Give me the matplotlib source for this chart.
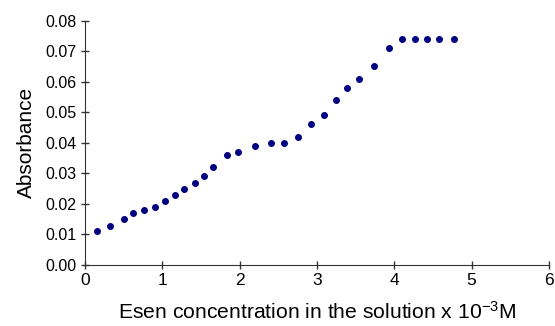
import numpy as np
import matplotlib.pyplot as plt

plt.rcParams['font.family'] = ['Liberation Sans', 'DejaVu Sans']
plt.rcParams['mathtext.default'] = 'regular'

# Esen concentration (x 10^-3 M) and absorbance
conc = [0.16, 0.32, 0.51, 0.62, 0.76, 0.91, 1.04, 1.17, 1.28, 1.42, 1.54, 1.66,
        1.84, 1.98, 2.20, 2.40, 2.58, 2.76, 2.93, 3.09, 3.25, 3.39, 3.54, 3.74,
        3.93, 4.10, 4.27, 4.42, 4.58, 4.77]
absorb = [0.011, 0.0127, 0.015, 0.017, 0.018, 0.019, 0.021, 0.023, 0.025, 0.027,
          0.029, 0.032, 0.036, 0.037, 0.039, 0.040, 0.040, 0.042, 0.046, 0.049,
          0.054, 0.058, 0.061, 0.065, 0.071, 0.074, 0.074, 0.074, 0.074, 0.074]

fig = plt.figure(figsize=(5.55, 3.26), dpi=100)
ax = fig.add_axes([0.153, 0.187, 0.836, 0.75])
ax.plot(conc, absorb, 'o', color='#000080', ms=4.0, mec='#000080')

ax.set_xlim(0, 6)
ax.set_ylim(0, 0.08)
ax.set_xticks(range(7))
ax.set_yticks(np.arange(0, 0.081, 0.01))
ax.yaxis.set_major_formatter(plt.FormatStrFormatter('%.2f'))
ax.spines['top'].set_visible(False)
ax.spines['right'].set_visible(False)
for s in ['left', 'bottom']:
    ax.spines[s].set_color('#333333')
ax.tick_params(direction='inout', length=6, width=1, color='#333333',
               labelsize=11.5, pad=3)
ax.tick_params(axis='x', labelsize=12.5)

ax.set_xlabel('Esen concentration in the solution x 10$^{-3}$M', fontsize=15.2, labelpad=9)
ax.set_ylabel('Absorbance', fontsize=15, labelpad=7)

fig.savefig('out.png', dpi=100)
